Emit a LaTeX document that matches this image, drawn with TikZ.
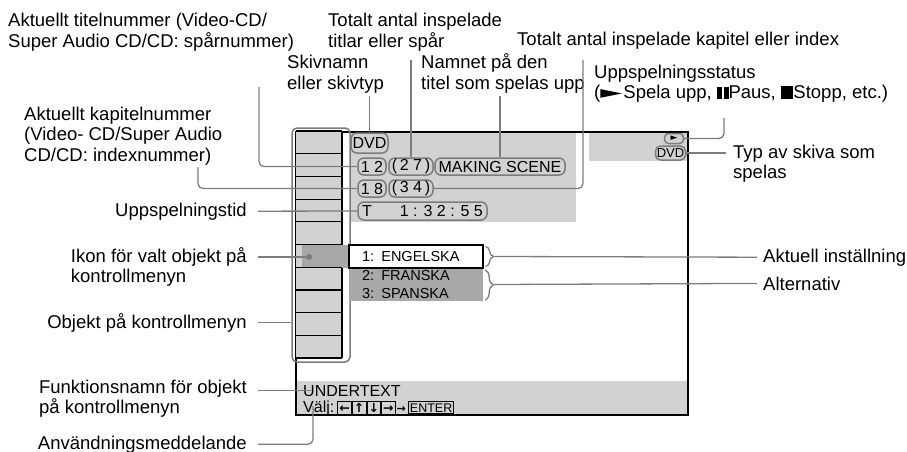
\documentclass[tikz,border=0pt]{standalone}
\usepackage{fontspec}
\usepackage{graphicx}
\setmainfont{Liberation Sans}
\newfontfamily\osdsym{DejaVu Sans}
\usetikzlibrary{positioning,calc,decorations.pathreplacing}
\definecolor{OsdPanel}{HTML}{D2D2D2}
\definecolor{OsdDark}{HTML}{A8A8A8}
\definecolor{OsdLine}{HTML}{7C7C7C}
\newcommand{\keycap}[1]{{\setlength{\fboxsep}{0.8pt}\setlength{\fboxrule}{1pt}\fbox{\makebox[11pt]{\rule[-1.5pt]{0pt}{11pt}\osdsym\bfseries\fontsize{12.5}{12.5}\selectfont#1}}}}
\newcommand{\pausebars}{\rule{4.5pt}{12pt}\hspace{2.5pt}\rule{4.5pt}{12pt}}
\newcommand{\stopsq}{\rule{12.5pt}{12.5pt}}
\newcommand{\playtri}{\scalebox{1.55}[0.95]{\osdsym ►}}
\tikzset{
  lbl/.style={inner sep=0pt,align=left,font=\fontsize{18.5}{20.5}\selectfont},
  lead/.style={draw=OsdLine,line width=1.3pt,rounded corners=5pt},
  bracket/.style={draw=OsdLine,line width=1.3pt,decorate,decoration={brace,amplitude=8pt}},
  osdtag/.style={rectangle,rounded corners=6pt,draw=OsdLine,line width=1.5pt,inner sep=0pt,minimum height=17pt,font=\fontsize{16}{18}\selectfont},
  optbox/.style={rectangle,inner xsep=13pt,inner ysep=0pt,text width=108pt,align=left,font=\fontsize{14.5}{18}\selectfont},
  osdtext/.style={inner sep=0pt,anchor=base west,font=\fontsize{16}{18}\selectfont},
  menuframe/.style={rectangle,rounded corners=5pt,draw=OsdLine,line width=1.5pt,minimum width=58pt,minimum height=234pt},
}

\begin{document}
\begin{tikzpicture}[x=1pt,y=-1pt]
  \useasboundingbox (0,0) rectangle (907,452);
  \fill[OsdPanel] (350,133) rectangle (576,222);
  \fill[OsdPanel] (589,133) rectangle (687,161);
  \fill[OsdPanel] (296,381) rectangle (687,414);
  \draw[line width=1.8pt] (296,132) rectangle (688,415);
  \fill[OsdPanel] (296,131) rectangle (342,358);
  \fill[OsdDark] (302,245) rectangle (349,268);
  \foreach \k in {0,...,10}
    \draw[line width=1.2pt] (296,131+22.7*\k) -- (342,131+22.7*\k);
  \draw[line width=1.2pt] (342,131) -- (342,245) (342,268) -- (342,358);
  \node[menuframe] (menucol) at (321,245) {};
  \node[circle,fill=OsdLine,inner sep=0pt,minimum size=6pt] (seldot) at (309,257) {};

  \node[optbox,fill=OsdDark,minimum height=33pt] (opt2) at (416,284.5) {2: FRANSKA\\3: SPANSKA};
  \node[optbox,fill=white,draw=black,line width=1.2pt,minimum height=23pt] (opt1) at (416,256.5) {1: ENGELSKA};

  \node[osdtag,minimum width=37pt,minimum height=20pt] (dvd) at (369.5,143) {DVD};
  \node[osdtag,minimum width=28pt] (nr12) at (372,166.5) {1 2};
  \node[osdtag,minimum width=44pt] (tot27) at (411,166.5) {(\,2 7\,)};
  \node[osdtag,minimum width=130pt] (scene) at (500,166.5) {MAKING SCENE};
  \node[osdtag,minimum width=28pt] (nr18) at (372,188.5) {1 8};
  \node[osdtag,minimum width=44pt] (tot34) at (411,188.5) {(\,3 4\,)};
  \node[osdtag,minimum width=129pt,minimum height=18pt] (time) at (422.5,211) {T\hspace{28pt}1 : 3 2 : 5 5};
  \node[osdtag,minimum width=19pt,minimum height=10pt,rounded corners=4pt,font=\osdsym\fontsize{9}{9}\selectfont] (play) at (674,138.5) {►};
  \node[osdtag,minimum width=30pt,minimum height=14pt,rounded corners=5pt,font=\fontsize{13}{13}\selectfont] (disc) at (670.5,153) {DVD};

  \node[osdtext] (undertext) at (303,396) {UNDERTEXT};
  \node[osdtext] (valj) at (303,412) {Välj:\hspace{3pt}\keycap{←}\keycap{↑}\keycap{↓}\keycap{→}\hspace{1pt}{\osdsym\bfseries\fontsize{11}{11}\selectfont →}\hspace{2pt}{\setlength{\fboxsep}{1pt}\setlength{\fboxrule}{1pt}\fbox{\fontsize{12.5}{12.5}\selectfont ENTER}}};

  \node[lbl,anchor=base west] (titel) at (8,47.5) {Aktuellt titelnummer (Video-CD/\\Super Audio CD/CD: spårnummer)};
  \node[lbl,anchor=base west] (totitlar) at (328,47.5) {Totalt antal inspelade\\titlar eller spår};
  \node[lbl,anchor=base west] (skivnamn) at (287,89) {Skivnamn\\eller skivtyp};
  \node[lbl,anchor=base west] (namnet) at (421,89) {Namnet på den\\titel som spelas upp};
  \node[lbl,anchor=base west] (totkap) at (517,46) {Totalt antal inspelade kapitel eller index};
  \node[lbl,anchor=base west] (status) at (594,98.5) {Uppspelningsstatus\\(\playtri\hspace{1pt}Spela upp, \pausebars Paus, \stopsq Stopp, etc.)};
  \node[lbl,anchor=base west] (kapitel) at (24,161) {Aktuellt kapitelnummer\\(Video- CD/Super Audio\\CD/CD: indexnummer)};
  \node[lbl,anchor=base east] (tid) at (247,216) {Uppspelningstid};
  \node[lbl,anchor=base east] (ikon) at (247,282.5) {Ikon för valt objekt på\\kontrollmenyn};
  \node[lbl,anchor=base east] (objekt) at (247,328) {Objekt på kontrollmenyn};
  \node[lbl,anchor=base east] (funk) at (247,413.5) {Funktionsnamn för objekt\\på kontrollmenyn};
  \node[lbl,anchor=base east] (anv) at (247,449) {Användningsmeddelande};
  \node[lbl,anchor=base west] (aktuell) at (763,262) {Aktuell inställning};
  \node[lbl,anchor=base west] (alternativ) at (763,290) {Alternativ};
  \node[lbl,anchor=base west] (typ) at (733,178.5) {Typ av skiva som\\spelas};

  \coordinate (titeltop) at (259,87);
  \coordinate (kaptop) at (198,167);
  \coordinate (totkaptop) at (583,60);
  \coordinate (statustop) at (724,118);
  \coordinate (valjpt) at (313,406);

  \draw[lead] (titeltop) |- (nr12.west);
  \draw[lead,shorten <=8pt] (totitlar.south -| tot27) -- (tot27.north);
  \draw[lead,shorten <=3pt] (skivnamn.south -| dvd) -- (dvd.north);
  \draw[lead,shorten <=3pt] (namnet.south -| scene) -- (scene.north);
  \draw[lead] (totkaptop) |- (tot34.east);
  \draw[lead] (statustop) |- (play.east);
  \draw[lead,shorten >=7pt] (disc.east) -- (disc.east -| typ.west);
  \draw[lead] (kaptop) |- (nr18.west);
  \draw[lead,shorten <=11pt] (tid.east) -- (time.west);
  \draw[lead,shorten <=11pt] (ikon.east |- seldot) -- (seldot);
  \draw[lead,shorten <=11pt] (objekt.east) -- (objekt.east -| menucol.west);
  \draw[lead,shorten <=11pt] (funk.east |- undertext) -- ([xshift=8pt]undertext.west);
  \draw[lead,shorten <=11pt] (anv.east) -| (valjpt);
  \draw[bracket] ([xshift=2pt,yshift=-2pt]opt1.north east) -- ([xshift=2pt,yshift=2pt]opt1.south east);
  \draw[bracket] ([xshift=2pt,yshift=-2pt]opt2.north east) -- ([xshift=2pt,yshift=1pt]opt2.south east);
  \draw[lead,shorten >=6pt] ([xshift=11pt]opt1.east) -- (aktuell.west);
  \draw[lead,shorten >=6pt] ([xshift=11pt]opt2.east) -- (alternativ.west);
\end{tikzpicture}
\end{document}
